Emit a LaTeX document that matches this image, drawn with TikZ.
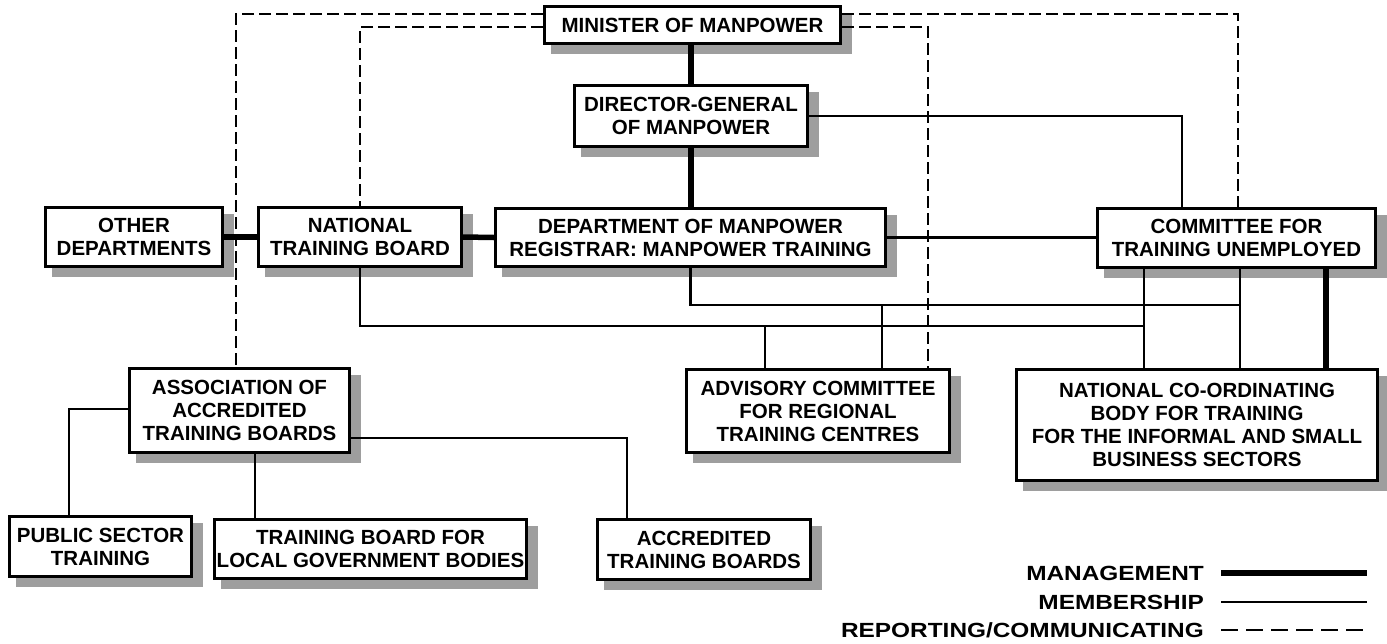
\documentclass[tikz,border=0pt]{standalone}
\usepackage{fontspec}
\setmainfont{Liberation Sans}
\newfontfamily\legendfont[FakeStretch=1.19]{Liberation Sans}

\pgfdeclarelayer{shadows}
\pgfdeclarelayer{links}
\pgfsetlayers{shadows,links,main}

\tikzset{
  orgbox/.style={draw=black, line width=3pt, fill=white, align=center,
    inner sep=0pt, font=\fontsize{20.5}{23}\selectfont\bfseries},
  mgmt/.style={line width=5.5pt},
  memb/.style={line width=2.6pt},
  rept/.style={line width=2.3pt, dash pattern=on 12pt off 5pt},
  boxshade/.style={fill=black!38},
  keytext/.style={anchor=base east, inner sep=0pt,
    font=\legendfont\fontsize{20.5}{23}\selectfont\bfseries},
}

\begin{document}
\begin{tikzpicture}[x=1pt,y=-1pt]
\useasboundingbox (0,0) rectangle (1387,643);

% ---------- boxes ----------
\node[orgbox, minimum width=296, minimum height=37] (min) at (692.5,25) {MINISTER OF MANPOWER};
\node[orgbox, minimum width=233, minimum height=61] (dg) at (691,116) {DIRECTOR-GENERAL\\OF MANPOWER};
\node[orgbox, minimum width=177, minimum height=59] (oth) at (134,237) {OTHER\\DEPARTMENTS};
\node[orgbox, minimum width=203, minimum height=59] (ntb) at (360,237) {NATIONAL\\TRAINING BOARD};
\node[orgbox, minimum width=390, minimum height=58] (dep) at (690.5,237.5) {DEPARTMENT OF MANPOWER\\REGISTRAR: MANPOWER TRAINING};
\node[orgbox, minimum width=278, minimum height=59] (cte) at (1236.5,238) {COMMITTEE FOR\\TRAINING UNEMPLOYED};
\node[orgbox, minimum width=220, minimum height=84] (asc) at (239.5,410.5) {ASSOCIATION OF\\ACCREDITED\\TRAINING BOARDS};
\node[orgbox, minimum width=263, minimum height=83] (adv) at (818,411) {ADVISORY COMMITTEE\\FOR REGIONAL\\TRAINING CENTRES};
\node[orgbox, minimum width=361, minimum height=111] (nco) at (1197,425) {NATIONAL CO-ORDINATING\\BODY FOR TRAINING\\FOR THE INFORMAL AND SMALL\\BUSINESS SECTORS};
\node[orgbox, minimum width=182, minimum height=60] (pub) at (100.5,546.5) {PUBLIC SECTOR\\TRAINING};
\node[orgbox, minimum width=312, minimum height=59] (lgb) at (370.5,549) {TRAINING BOARD FOR\\LOCAL GOVERNMENT BODIES};
\node[orgbox, minimum width=213, minimum height=60] (acc) at (704,549.5) {ACCREDITED\\TRAINING BOARDS};

% ---------- drop shadows ----------
\begin{pgfonlayer}{shadows}
  \foreach \n in {min,dg,oth,ntb,dep,cte,asc,adv,nco,pub,lgb,acc}
    \fill[boxshade] ([shift={(8pt,-8pt)}]\n.north west) rectangle ([shift={(10pt,-9pt)}]\n.south east);
\end{pgfonlayer}

% ---------- connectors ----------
\begin{pgfonlayer}{links}
  % management
  \draw[mgmt] (dg.north) -- (dg.north |- min.south);
  \draw[mgmt] (dg.south) -- (dg.south |- dep.north);
  \draw[mgmt] (oth.east) -- (ntb.west);
  \draw[mgmt] (ntb.east) -- (dep.west);
  \draw[mgmt] ([xshift=230pt]cte.south west) -- ([xshift=230pt]cte.south west |- nco.north);

  % membership
  \draw[memb] (dep.east) -- (dep.east -| cte.west);
  \draw[memb] (dg.east) -| ([xshift=86pt]cte.north west);
  \draw[memb] ([xshift=48pt]cte.south west) -- ([xshift=48pt]cte.south west |- nco.north);
  \draw[memb] ([xshift=144pt]cte.south west) -- ([xshift=144pt]cte.south west |- nco.north);
  \coordinate (upperbus) at (0,305);
  \coordinate (lowerbus) at (0,326);
  \draw[memb] (dep.south) |- ([xshift=144pt]cte.south west |- upperbus);
  \draw[memb] ([xshift=197pt]adv.north west) -- ([xshift=197pt]adv.north west |- upperbus);
  \draw[memb] (ntb.south) |- ([xshift=48pt]cte.south west |- lowerbus);
  \draw[memb] ([xshift=80pt]adv.north west) -- ([xshift=80pt]adv.north west |- lowerbus);
  \draw[memb] ([yshift=1.5pt]asc.west) -| ([xshift=61pt]pub.north west);
  \draw[memb] ([xshift=127pt]asc.south west) -- ([xshift=127pt]asc.south west |- lgb.north);
  \draw[memb] ([yshift=-71pt]asc.north east) -| ([xshift=31pt]acc.north west);

  % reporting / communicating
  \draw[rept] ([yshift=-9pt]min.north west) -| ([xshift=108pt]asc.north west);
  \draw[rept] ([yshift=-22pt]min.north west) -| (ntb.north);
  \draw[rept] ([yshift=-9pt]min.north east) -| ([xshift=1.5pt]cte.north);
  \draw[rept] ([yshift=-22pt]min.north east) -| ([xshift=243pt]adv.north west);
\end{pgfonlayer}

% ---------- key ----------
\node[keytext] (k1) at (1204,580.5) {MANAGEMENT};
\node[keytext] (k2) at (1204,609.5) {MEMBERSHIP};
\node[keytext] (k3) at (1204,637.5) {REPORTING/COMMUNICATING};
\coordinate (k1end) at (1367,573);
\coordinate (k2end) at (1367,602);
\coordinate (k3end) at (1367,630);
\draw[mgmt] ([xshift=17pt]k1.east |- k1end) -- (k1end);
\draw[memb] ([xshift=17pt]k2.east |- k2end) -- (k2end);
\draw[line width=2.3pt, dash pattern=on 17pt off 8pt] ([xshift=17pt]k3.east |- k3end) -- (k3end);
\end{tikzpicture}
\end{document}
